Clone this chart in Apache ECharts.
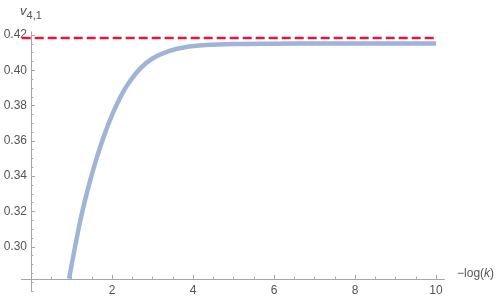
<!DOCTYPE html>
<html><head><meta charset="utf-8">
<script src="https://cdn.jsdelivr.net/npm/echarts@6/dist/echarts.min.js"></script>
<style>html,body{margin:0;padding:0;background:#fff}#c{width:500px;height:303px}</style>
</head><body><div id="c"></div>
<script>
// curve readings: -log(k) vs v_{4,1}
const curveX = [0.94, 1.2, 1.4, 1.6, 1.8, 2.0, 2.2, 2.4, 2.7, 3.0, 3.4, 3.8, 4.3, 5.0, 6.0, 7.0, 8.5, 10.0];
const curveV = [0.282, 0.313, 0.3324, 0.3487, 0.3627, 0.3746, 0.3845, 0.3924, 0.4011, 0.4067, 0.4109, 0.4131, 0.4143, 0.4149, 0.4151, 0.4152, 0.4152, 0.4152];
// limiting value (red dashed)
const limitX = [-0.23, 10.0];
const limitV = [0.4183, 0.4183];
// ticks
const xMajorTicks = [2, 4, 6, 8, 10];
const xMinorTicks = [0.5, 1, 1.5, 2.5, 3, 3.5, 4.5, 5, 5.5, 6.5, 7, 7.5, 8.5, 9, 9.5, 10];
const yMajorTicks = [0.30, 0.32, 0.34, 0.36, 0.38, 0.40, 0.42];
const yMinorTicks = [0.275, 0.28, 0.285, 0.29, 0.295, 0.305, 0.31, 0.315, 0.325, 0.33, 0.335, 0.345, 0.35, 0.355, 0.365, 0.37, 0.375, 0.385, 0.39, 0.395, 0.405, 0.41, 0.415];

const X_MIN = -0.23, X_MAX = 10.2, Y_MIN = 0.275, Y_MAX = 0.4217;
const axisColor = '#a6a6a6', labelColor = '#555';
const font = 'Liberation Sans, Arial, sans-serif';

const chart = echarts.init(document.getElementById('c'), null, {renderer: 'canvas'});
const baseX = {type: 'value', min: X_MIN, max: X_MAX, position: 'bottom', offset: -12,
  splitLine: {show: false}, axisLine: {onZero: false, lineStyle: {color: axisColor, width: 1}}};
const baseY = {type: 'value', min: Y_MIN, max: Y_MAX, position: 'left', offset: -9.3,
  splitLine: {show: false}, axisLine: {onZero: false, lineStyle: {color: axisColor, width: 1}}};
chart.setOption({
  animation: false,
  grid: {left: 21.7, right: 55.9, top: 32, bottom: 12.1, containLabel: false, outerBoundsMode: 'none'},
  xAxis: [
    Object.assign({}, baseX, {
      name: '{a|\u2212log(}{i|k}{a|)}', nameLocation: 'end', nameGap: 13,
      nameTextStyle: {padding: [0, 0, 10, 0], rich: {
        a: {fontFamily: font, fontSize: 12, color: labelColor},
        i: {fontFamily: font, fontSize: 12, fontStyle: 'italic', color: labelColor}}},
      axisTick: {inside: true, length: 4, customValues: xMajorTicks, lineStyle: {color: axisColor}},
      axisLabel: {customValues: xMajorTicks, color: labelColor, fontSize: 12, fontFamily: font, margin: 6}
    }),
    Object.assign({}, baseX, {
      axisTick: {inside: true, length: 2.3, customValues: xMinorTicks, lineStyle: {color: axisColor}},
      axisLabel: {show: false}
    })
  ],
  yAxis: [
    Object.assign({}, baseY, {
      name: '{v|v}{s|4,1}', nameLocation: 'end', nameGap: 11,
      nameTextStyle: {align: 'center', rich: {
        v: {fontFamily: font, fontSize: 13, fontStyle: 'italic', color: labelColor, verticalAlign: 'bottom', padding: [0, 0, 3, 0]},
        s: {fontFamily: font, fontSize: 11, color: labelColor, verticalAlign: 'bottom'}}},
      axisTick: {inside: true, length: 4, customValues: yMajorTicks, lineStyle: {color: axisColor}},
      axisLabel: {customValues: yMajorTicks, color: labelColor, fontSize: 12, fontFamily: font, margin: 4,
        formatter: v => v.toFixed(2)}
    }),
    Object.assign({}, baseY, {
      axisTick: {inside: true, length: 2.3, customValues: yMinorTicks, lineStyle: {color: axisColor}},
      axisLabel: {show: false}
    })
  ],
  series: [
    {type: 'line', xAxisIndex: 0, yAxisIndex: 0, showSymbol: false, smooth: 0.3,
      data: curveX.map((x, i) => [x, curveV[i]]),
      lineStyle: {color: '#9fb4d7', width: 4.5, cap: 'butt'}},
    {type: 'line', xAxisIndex: 0, yAxisIndex: 0, showSymbol: false,
      data: limitX.map((x, i) => [x, limitV[i]]),
      lineStyle: {color: '#e3173e', width: 2.5, type: [9, 4]}}
  ]
});
</script></body></html>
